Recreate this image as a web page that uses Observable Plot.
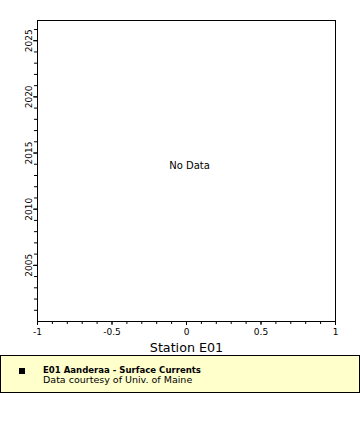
<!DOCTYPE html>
<html>
<head>
<meta charset="utf-8">
<script src="https://cdn.jsdelivr.net/npm/d3@7"></script>
<script src="https://cdn.jsdelivr.net/npm/@observablehq/plot@0.6"></script>
<style>
  body { margin: 0; background: #fff; font-family: "DejaVu Sans", sans-serif; }
  #chart svg { display: block; }
  #legend {
    box-sizing: border-box;
    width: 360px; height: 38px;
    margin-top: 1px;
    background: #ffffcc;
    border: 1px solid #000;
    position: relative;
    font-family: "DejaVu Sans", sans-serif;
    font-size: 9.5px;
    line-height: 10px;
  }
  #legend .sw { position: absolute; left: 18px; top: 12px; width: 6px; height: 6px; background: #000; }
  #legend .t { position: absolute; left: 42px; top: 9px; white-space: nowrap; }
  #legend .t b { font-weight: bold; font-family: "DejaVu Sans Condensed", "DejaVu Sans", sans-serif; }
</style>
</head>
<body>
<div id="chart"></div>
<div id="legend"><div class="sw"></div><div class="t"><b>E01 Aanderaa - Surface Currents</b><br>Data courtesy of Univ. of Maine</div></div>
<script>
const xDomain = [-1, 1];
const yDomain = [2000, 2026.8];
const xMajorTicks = [-1, -0.5, 0, 0.5, 1];
const xMinorTicks = [-1, -0.9, -0.8, -0.7, -0.6, -0.5, -0.4, -0.3, -0.2, -0.1, 0, 0.1, 0.2, 0.3, 0.4, 0.5, 0.6, 0.7, 0.8, 0.9, 1];
const yMajorTicks = [2005, 2010, 2015, 2020, 2025];
const yMinorTicks = [2001, 2002, 2003, 2004, 2005, 2006, 2007, 2008, 2009, 2010, 2011, 2012, 2013, 2014, 2015, 2016, 2017, 2018, 2019, 2020, 2021, 2022, 2023, 2024, 2025, 2026];
const xLabel = "Station E01";
const message = "No Data";

const chart = Plot.plot({
  width: 360,
  height: 354,
  marginLeft: 37,
  marginRight: 25,
  marginTop: 20,
  marginBottom: 33,
  style: { fontFamily: "DejaVu Sans, sans-serif", fontSize: "9px", color: "#000", background: "#fff" },
  x: { domain: xDomain },
  y: { domain: yDomain },
  marks: [
    Plot.axisX(xMinorTicks, { tickSize: 3, tickFormat: () => "", stroke: "#000", label: null }),
    Plot.axisX(xMajorTicks, { tickSize: 4, tickPadding: 3, tickFormat: d => String(d), stroke: "#000", fill: "#000", label: null }),
    Plot.axisY(yMinorTicks, { tickSize: 3, tickFormat: () => "", stroke: "#000", label: null }),
    Plot.axisY(yMajorTicks, { tickSize: 4, tickPadding: 2, tickRotate: -90, tickFormat: d => String(d), stroke: "#000", fill: "#000", label: null }),
    Plot.text([xLabel], { frameAnchor: "bottom", dy: 30, text: d => d, fontSize: 12.7, fill: "#000" }),
    Plot.text([message], { frameAnchor: "middle", dx: 3, dy: -5, text: d => d, fontSize: 10, fill: "#000" }),
    Plot.frame({ stroke: "#000" })
  ]
});
document.getElementById("chart").appendChild(chart);
</script>
</body>
</html>
